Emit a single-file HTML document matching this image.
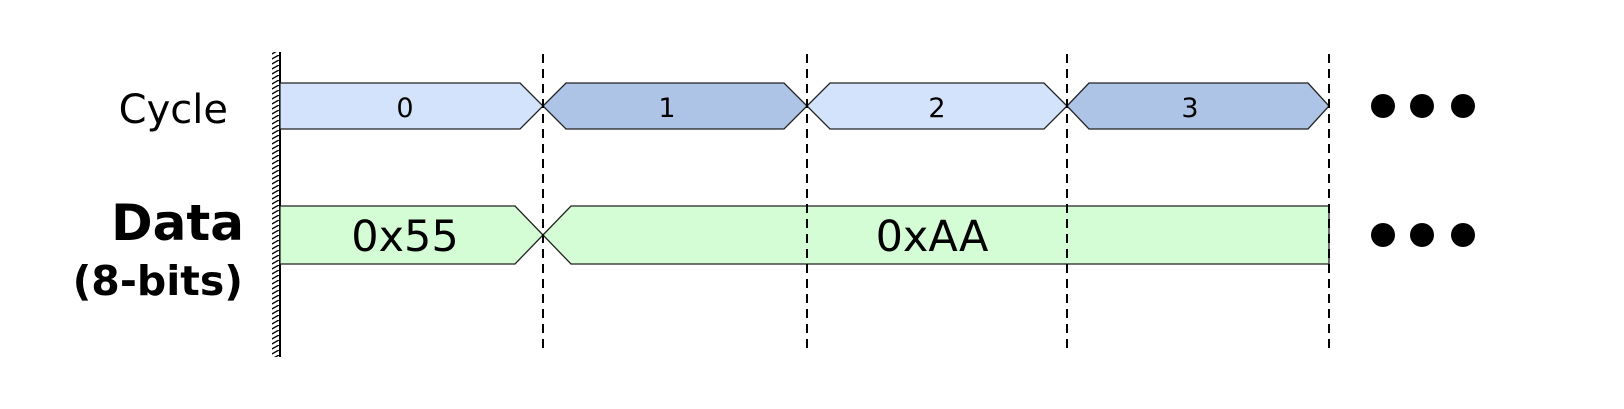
<!DOCTYPE html>
<html><head><meta charset="utf-8"><style>html,body{margin:0;padding:0;background:#fff}</style></head>
<body>
<svg width="1624" height="404" viewBox="0 0 1624 404" xmlns="http://www.w3.org/2000/svg" font-family="'DejaVu Sans','Liberation Sans',sans-serif">
<defs>
<pattern id="h" width="9" height="5" patternUnits="userSpaceOnUse">
<line x1="0" y1="5" x2="9" y2="0" stroke="#000" stroke-width="1.4"/>
</pattern>
</defs>
<rect x="272" y="52" width="8" height="305" fill="url(#h)"/>
<line x1="280" y1="52" x2="280" y2="357" stroke="#000" stroke-width="2"/>
<g stroke="#222" stroke-width="1.3">
<polygon points="280,83 520,83 543,106 520,129 280,129" fill="#d4e3fc"/>
<polygon points="543,106 566,83 784,83 807,106 784,129 566,129" fill="#aec4e6"/>
<polygon points="807,106 830,83 1044,83 1067,106 1044,129 830,129" fill="#d4e3fc"/>
<polygon points="1067,106 1089,83 1308,83 1329,106 1308,129 1089,129" fill="#aec4e6"/>
<polygon points="280,206 515,206 543,235 515,264 280,264" fill="#d5fdd5"/>
<polygon points="543,235 571,206 1329,206 1329,264 571,264" fill="#d5fdd5"/>
</g>
<g stroke="#000" stroke-width="2" stroke-dasharray="9,6">
<line x1="543" y1="54" x2="543" y2="350"/>
<line x1="807" y1="54" x2="807" y2="350"/>
<line x1="1067" y1="54" x2="1067" y2="350"/>
<line x1="1329" y1="54" x2="1329" y2="350"/>
</g>
<g fill="#000">
<circle cx="1383" cy="106" r="12"/><circle cx="1422" cy="106" r="12"/><circle cx="1463" cy="106" r="12"/>
<circle cx="1383" cy="235" r="12"/><circle cx="1422" cy="235" r="12"/><circle cx="1463" cy="235" r="12"/>
</g>
<g text-anchor="middle" font-size="27" fill="#000">
<text x="405" y="117">0</text>
<text x="667" y="117">1</text>
<text x="937" y="117">2</text>
<text x="1190" y="117">3</text>
</g>
<text x="405" y="251" font-size="43" text-anchor="middle">0x55</text>
<text x="932" y="251" font-size="43" text-anchor="middle">0xAA</text>
<text x="228" y="123" font-size="40" text-anchor="end">Cycle</text>
<text x="244" y="240" font-size="50" font-weight="bold" text-anchor="end">Data</text>
<text x="243" y="295" font-size="41" font-weight="bold" text-anchor="end">(8-bits)</text>
</svg>
</body></html>
